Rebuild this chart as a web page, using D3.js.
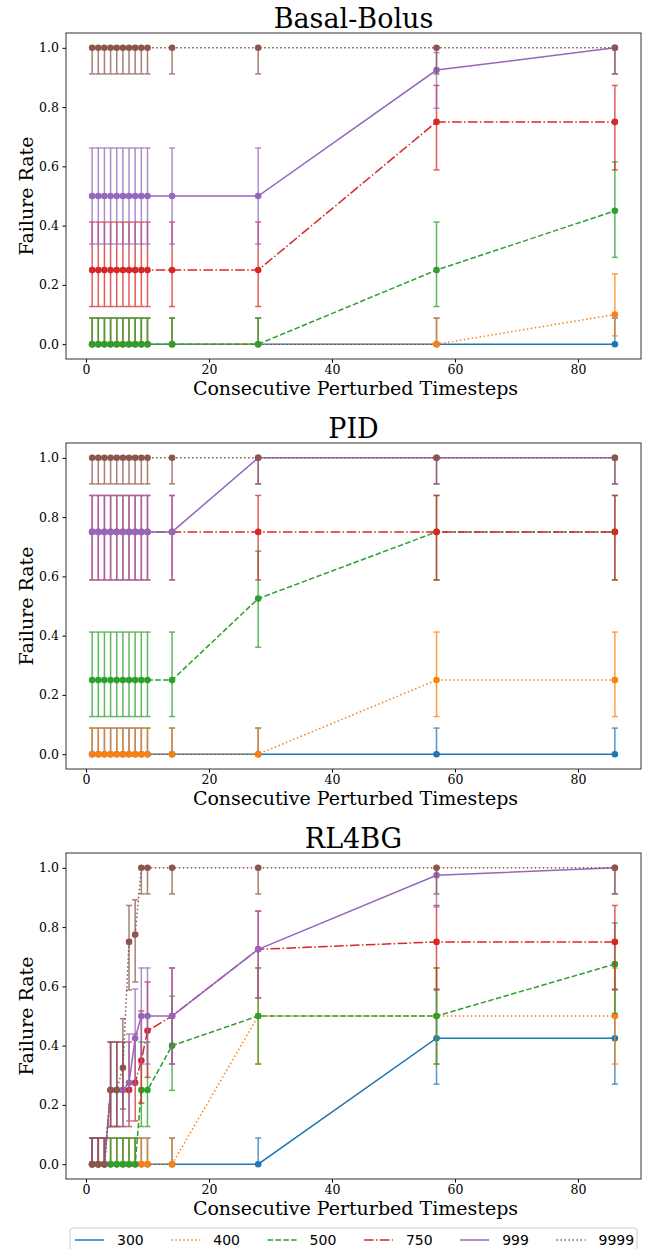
<!DOCTYPE html>
<html lang="en">
<head>
<meta charset="UTF-8">
<title>Failure Rate vs Consecutive Perturbed Timesteps</title>
<script src="https://d3js.org/d3.v7.min.js"></script>
<style>
  body { margin: 0; background: #fff; }
  svg { display: block; }
  .tick text { font-family: "DejaVu Serif", serif; font-size: 12.5px; fill: #000; }
  .tick line { stroke: #000; }
  .domain { display: none; }
</style>
</head>
<body>
<svg id="chart" width="646" height="1249"></svg>
<script>
// x positions (consecutive perturbed timesteps)
const steps = [1, 2, 3, 4, 5, 6, 7, 8, 9, 10, 14, 28, 57, 86];
const seriesNames = ["300", "400", "500", "750", "999", "9999"];

// Basal-Bolus
const bb300  = [0, 0, 0, 0, 0, 0, 0, 0, 0, 0, 0, 0, 0, 0];
const bb400  = [0, 0, 0, 0, 0, 0, 0, 0, 0, 0, 0, 0, 0, 0.1];
const bb500  = [0, 0, 0, 0, 0, 0, 0, 0, 0, 0, 0, 0, 0.25, 0.45];
const bb750  = [0.25, 0.25, 0.25, 0.25, 0.25, 0.25, 0.25, 0.25, 0.25, 0.25, 0.25, 0.25, 0.75, 0.75];
const bb999  = [0.5, 0.5, 0.5, 0.5, 0.5, 0.5, 0.5, 0.5, 0.5, 0.5, 0.5, 0.5, 0.925, 1];
const bb9999 = [1, 1, 1, 1, 1, 1, 1, 1, 1, 1, 1, 1, 1, 1];

// PID
const pid300  = [0, 0, 0, 0, 0, 0, 0, 0, 0, 0, 0, 0, 0, 0];
const pid400  = [0, 0, 0, 0, 0, 0, 0, 0, 0, 0, 0, 0, 0.25, 0.25];
const pid500  = [0.25, 0.25, 0.25, 0.25, 0.25, 0.25, 0.25, 0.25, 0.25, 0.25, 0.25, 0.525, 0.75, 0.75];
const pid750  = [0.75, 0.75, 0.75, 0.75, 0.75, 0.75, 0.75, 0.75, 0.75, 0.75, 0.75, 0.75, 0.75, 0.75];
const pid999  = [0.75, 0.75, 0.75, 0.75, 0.75, 0.75, 0.75, 0.75, 0.75, 0.75, 0.75, 1, 1, 1];
const pid9999 = [1, 1, 1, 1, 1, 1, 1, 1, 1, 1, 1, 1, 1, 1];

// RL4BG
const rl300  = [0, 0, 0, 0, 0, 0, 0, 0, 0, 0, 0, 0, 0.425, 0.425];
const rl400  = [0, 0, 0, 0, 0, 0, 0, 0, 0, 0, 0, 0.5, 0.5, 0.5];
const rl500  = [0, 0, 0, 0, 0, 0, 0, 0, 0.25, 0.25, 0.4, 0.5, 0.5, 0.675];
const rl750  = [0, 0, 0, 0.25, 0.25, 0.25, 0.25, 0.275, 0.35, 0.45, 0.5, 0.725, 0.75, 0.75];
const rl999  = [0, 0, 0, 0.25, 0.25, 0.25, 0.275, 0.425, 0.5, 0.5, 0.5, 0.725, 0.975, 1];
const rl9999 = [0, 0, 0, 0.25, 0.25, 0.325, 0.75, 0.775, 1, 1, 1, 1, 1, 1];

// error bar bounds for each failure rate: [rate, lower, upper]
const ciTable = [
  [0, 0, 0.088], [0.1, 0.028, 0.237], [0.25, 0.127, 0.412], [0.275, 0.146, 0.439],
  [0.325, 0.186, 0.491], [0.35, 0.206, 0.517], [0.4, 0.249, 0.567], [0.425, 0.270, 0.591],
  [0.45, 0.293, 0.615], [0.5, 0.338, 0.662], [0.525, 0.361, 0.685], [0.675, 0.509, 0.814],
  [0.725, 0.561, 0.854], [0.75, 0.588, 0.873], [0.775, 0.615, 0.892], [0.925, 0.796, 0.984],
  [0.975, 0.868, 0.999], [1, 0.912, 1]
];

const xTicks = [0, 20, 40, 60, 80];
const yTicks = [0, 0.2, 0.4, 0.6, 0.8, 1.0];

const panels = [
  {title: "Basal-Bolus", series: [bb300, bb400, bb500, bb750, bb999, bb9999]},
  {title: "PID", series: [pid300, pid400, pid500, pid750, pid999, pid9999]},
  {title: "RL4BG", series: [rl300, rl400, rl500, rl750, rl999, rl9999]}
];

const colors = ["#1f77b4", "#ff7f0e", "#2ca02c", "#d62728", "#9467bd", "#8c564b"];
const dashes = [null, "1.5,2.5", "5.5,2.4", "9.6,2.4,1.5,2.4", null, "1.5,2.5"];

const svg = d3.select("#chart");
const margin = {left: 66, width: 575, height: 326};
const panelTops = [33, 443, 853];

const ciLookup = new Map(ciTable.map(d => [d[0], [d[1], d[2]]]));

const x = d3.scaleLinear().domain([-3.25, 90.25]).range([0, margin.width]);
const y = d3.scaleLinear().domain([-0.05, 1.05]).range([margin.height, 0]);

const line = d3.line()
    .x(d => x(d[0]))
    .y(d => y(d[1]));

panels.forEach((p, pi) => {
    const g = svg.append("g")
        .attr("transform", `translate(${margin.left},${panelTops[pi]})`);

    g.append("text")
        .attr("x", margin.width / 2)
        .attr("y", -5)
        .attr("text-anchor", "middle")
        .style("font-family", "DejaVu Serif, serif")
        .style("font-size", "27px")
        .text(p.title);

    g.append("g")
        .attr("transform", `translate(0,${margin.height})`)
        .call(d3.axisBottom(x).tickValues(xTicks).tickSize(3.5).tickPadding(3));

    g.append("g")
        .call(d3.axisLeft(y).tickValues(yTicks).tickFormat(d3.format(".1f")).tickSize(3.5).tickPadding(3.5));

    g.append("text")
        .attr("x", margin.width / 2 + 2)
        .attr("y", margin.height + 36)
        .attr("text-anchor", "middle")
        .style("font-family", "DejaVu Serif, serif")
        .style("font-size", "19px")
        .text("Consecutive Perturbed Timesteps");

    g.append("text")
        .attr("transform", `translate(-33,${margin.height / 2}) rotate(-90)`)
        .attr("text-anchor", "middle")
        .style("font-family", "DejaVu Serif, serif")
        .style("font-size", "19px")
        .text("Failure Rate");

    p.series.forEach((vals, si) => {
        const pts = steps.map((s, i) => [s, vals[i]]);
        const sg = g.append("g");

        // error bars
        const eb = sg.append("g")
            .attr("stroke", colors[si])
            .attr("stroke-width", 1.5)
            .attr("opacity", 0.75);
        pts.forEach(d => {
            const ci = ciLookup.get(d[1]);
            const cx = x(d[0]);
            eb.append("line")
                .attr("x1", cx).attr("x2", cx)
                .attr("y1", y(ci[0])).attr("y2", y(ci[1]));
            [ci[0], ci[1]].forEach(v => {
                eb.append("line")
                    .attr("x1", cx - 3).attr("x2", cx + 3)
                    .attr("y1", y(v)).attr("y2", y(v));
            });
        });

        sg.append("path")
            .datum(pts)
            .attr("fill", "none")
            .attr("stroke", colors[si])
            .attr("stroke-width", 1.5)
            .attr("stroke-dasharray", dashes[si])
            .attr("d", line);

        sg.selectAll("circle")
            .data(pts)
            .join("circle")
            .attr("cx", d => x(d[0]))
            .attr("cy", d => y(d[1]))
            .attr("r", 3.3)
            .attr("fill", colors[si]);
    });

    // frame
    g.append("rect")
        .attr("width", margin.width)
        .attr("height", margin.height)
        .attr("fill", "none")
        .attr("stroke", "#333")
        .attr("stroke-width", 1);
});

// legend below the last panel, six columns
const legend = svg.append("g").attr("transform", "translate(70,1228)");
legend.append("rect")
    .attr("width", 567)
    .attr("height", 30)
    .attr("rx", 3)
    .attr("fill", "#fff")
    .attr("stroke", "#ccc");

seriesNames.forEach((name, i) => {
    const lx = 5 + i * 96.3;
    legend.append("line")
        .attr("x1", lx).attr("x2", lx + 29)
        .attr("y1", 12).attr("y2", 12)
        .attr("stroke", colors[i])
        .attr("stroke-width", 1.5)
        .attr("stroke-dasharray", dashes[i]);
    legend.append("text")
        .attr("x", lx + 42)
        .attr("y", 17)
        .style("font-family", "DejaVu Sans, sans-serif")
        .style("font-size", "14px")
        .text(name);
});
</script>
</body>
</html>
